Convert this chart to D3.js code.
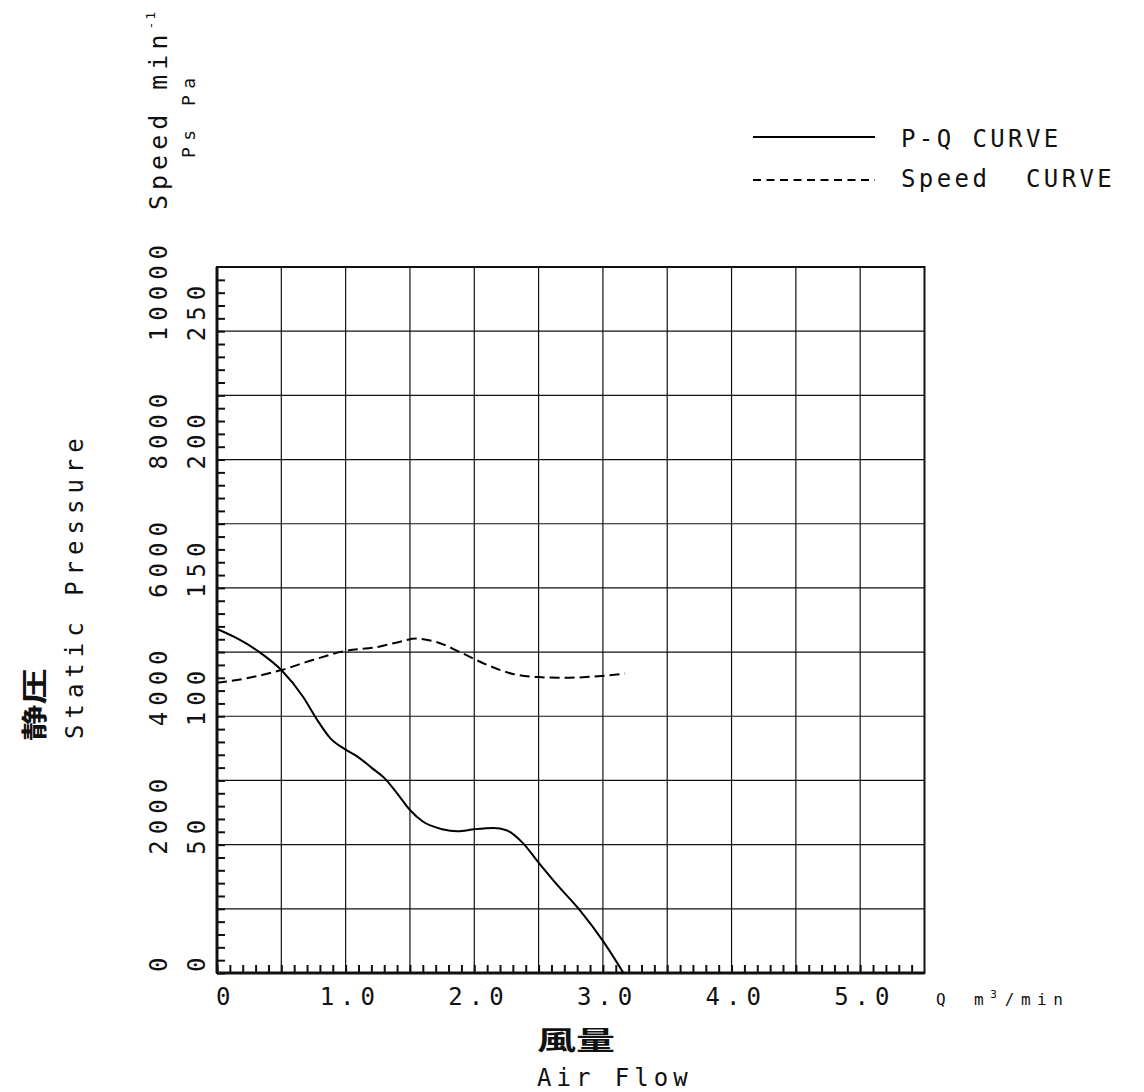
<!DOCTYPE html>
<html>
<head>
<meta charset="utf-8">
<script src="https://cdn.jsdelivr.net/npm/d3@7"></script>
<style>
  html, body { margin: 0; padding: 0; background: #fff; }
  svg { display: block; }
  text { font-family: "DejaVu Sans Mono", monospace; fill: #111; white-space: pre; }
</style>
</head>
<body>
<svg id="chart" width="1144" height="1092"></svg>
<script>
// ---- data ----
const xTickValues = [0, 1, 2, 3, 4, 5];
const xTickLabels = ["0", "1.0", "2.0", "3.0", "4.0", "5.0"];
const pressureTickValues = [0, 50, 100, 150, 200, 250];
const pressureTickLabels = ["0", "50", "100", "150", "200", "250"];
const speedTickValues = [0, 2000, 4000, 6000, 8000, 10000];
const speedTickLabels = ["0", "2000", "4000", "6000", "8000", "10000"];

const pqFlow =     [0, 0.15, 0.33, 0.5, 0.67, 0.78, 0.88, 1.0, 1.1, 1.2, 1.3, 1.4, 1.5, 1.6, 1.75, 1.87, 2.0, 2.15, 2.25, 2.38, 2.5, 2.65, 2.82, 3.0, 3.16];
const pqPressure = [134, 130.5, 125, 118, 107.5, 98.5, 91.5, 87, 84, 80, 76, 70, 63.5, 59, 56, 55.2, 56, 56.5, 55.6, 50.5, 43, 34, 24.5, 12.5, 0];

const speedFlow = [0, 0.25, 0.5, 0.75, 1.0, 1.25, 1.4, 1.55, 1.7, 1.9, 2.1, 2.3, 2.5, 2.7, 2.9, 3.05, 3.17];
const speedRpm  = [4520, 4600, 4720, 4880, 5020, 5080, 5150, 5210, 5160, 4990, 4800, 4660, 4610, 4600, 4615, 4640, 4665];

const legendLabels = ["P-Q CURVE", "Speed  CURVE"];

// ---- layout ----
const svg = d3.select("#chart");
const x = d3.scaleLinear().domain([0, 5.5]).range([217, 924.5]);
const y = d3.scaleLinear().domain([0, 275]).range([973, 267]);
const ySpeed = d3.scaleLinear().domain([0, 11000]).range([973, 267]);

// grid
const grid = svg.append("g").attr("stroke", "#111").attr("stroke-width", 1.2);
grid.selectAll("line.vx").data(d3.range(1, 11).map(i => i * 0.5)).join("line")
  .attr("x1", d => x(d)).attr("x2", d => x(d)).attr("y1", y(0)).attr("y2", y(275));
grid.selectAll("line.hy").data(d3.range(1, 11).map(i => i * 25)).join("line")
  .attr("x1", x(0)).attr("x2", x(5.5)).attr("y1", d => y(d)).attr("y2", d => y(d));

// minor ticks via axes
const minorX = d3.axisBottom(x).tickValues(d3.range(0, 55).map(i => i / 10)).tickSize(-8).tickFormat("");
const gx = svg.append("g").attr("transform", `translate(0,${y(0)})`).call(minorX);
gx.select(".domain").remove();
gx.selectAll(".tick line").attr("stroke", "#111").attr("stroke-width", 2);

const minorY = d3.axisLeft(y).tickValues(d3.range(0, 55).map(i => i * 5)).tickSize(-8).tickFormat("");
const gy = svg.append("g").attr("transform", `translate(${x(0)},0)`).call(minorY);
gy.select(".domain").remove();
gy.selectAll(".tick line").attr("stroke", "#111").attr("stroke-width", 2);

// frame
svg.append("rect").attr("x", x(0)).attr("y", y(275)).attr("width", x(5.5) - x(0)).attr("height", y(0) - y(275))
  .attr("fill", "none").attr("stroke", "#111").attr("stroke-width", 2);
svg.append("line").attr("x1", x(0)).attr("x2", x(5.5)).attr("y1", y(0)).attr("y2", y(0))
  .attr("stroke", "#111").attr("stroke-width", 3);
svg.append("line").attr("x1", x(0)).attr("x2", x(0)).attr("y1", y(0)).attr("y2", y(275))
  .attr("stroke", "#111").attr("stroke-width", 3);

// curves
const pqData = pqFlow.map((q, i) => [q, pqPressure[i]]);
const spData = speedFlow.map((q, i) => [q, speedRpm[i]]);
svg.append("path").datum(pqData)
  .attr("d", d3.line().x(d => x(d[0])).y(d => y(d[1])).curve(d3.curveMonotoneX))
  .attr("fill", "none").attr("stroke", "#000").attr("stroke-width", 2);
svg.append("path").datum(spData)
  .attr("d", d3.line().x(d => x(d[0])).y(d => ySpeed(d[1])).curve(d3.curveMonotoneX))
  .attr("fill", "none").attr("stroke", "#000").attr("stroke-width", 2).attr("stroke-dasharray", "10,5");

// x tick labels
svg.selectAll("text.xl").data(xTickValues).join("text")
  .attr("x", (d, i) => d === 0 ? x(d) - 1 : x(d) - 26)
  .attr("y", 1005)
  .attr("font-size", 24).attr("letter-spacing", 6)
  .text((d, i) => xTickLabels[i]);

// y tick labels (rotated)
svg.selectAll("text.yp").data(pressureTickValues).join("text")
  .attr("transform", (d) => `translate(205,${Math.min(y(d) + 10, 972)}) rotate(-90)`)
  .attr("font-size", 24).attr("letter-spacing", 6)
  .text((d, i) => pressureTickLabels[i]);
svg.selectAll("text.ys").data(speedTickValues).join("text")
  .attr("transform", (d) => `translate(167,${Math.min(ySpeed(d) + 10, 972)}) rotate(-90)`)
  .attr("font-size", 24).attr("letter-spacing", 6)
  .text((d, i) => speedTickLabels[i]);

// axis unit labels
const sp = svg.append("text").attr("transform", "translate(167,210) rotate(-90)")
  .attr("font-size", 25).attr("letter-spacing", 5);
sp.append("tspan").text("Speed min");
sp.append("tspan").attr("font-size", 13).attr("dy", -12).attr("letter-spacing", 2).text("-1");
svg.append("text").attr("transform", "translate(195,158) rotate(-90)")
  .attr("font-size", 18).attr("letter-spacing", 6.5).text("Ps Pa");

// left title
svg.append("text").attr("transform", "translate(83,739) rotate(-90)")
  .attr("font-size", 24).attr("letter-spacing", 6).text("Static Pressure");
svg.append("g").attr("transform", "translate(44,741) rotate(-90)")
  .append("text").attr("transform", "scale(1.4,1)")
  .style("font-family", "'Noto Sans CJK JP', sans-serif").attr("font-weight", "bold").attr("font-size", 26)
  .text("静圧");

// bottom title
svg.append("g").attr("transform", "translate(537,1050)")
  .append("text").attr("transform", "scale(1.5,1)")
  .style("font-family", "'Noto Sans CJK JP', sans-serif").attr("font-weight", "bold").attr("font-size", 26)
  .text("風量");
svg.append("text").attr("x", 537).attr("y", 1086)
  .attr("font-size", 24).attr("letter-spacing", 5).text("Air Flow");

// Q unit
const qt = svg.append("text").attr("x", 936).attr("y", 1005).attr("font-size", 16).attr("letter-spacing", 6.5);
qt.append("tspan").text("Q");
qt.append("tspan").attr("x", 974).text("m");
qt.append("tspan").attr("font-size", 11).attr("dy", -7).attr("letter-spacing", 3).text("3");
qt.append("tspan").attr("dy", 7).attr("dx", 5).text("/min");

// legend
const lg = svg.append("g");
lg.selectAll("line").data(legendLabels).join("line")
  .attr("x1", 753).attr("x2", 875)
  .attr("y1", (d, i) => 137 + i * 43).attr("y2", (d, i) => 137 + i * 43)
  .attr("stroke", "#000").attr("stroke-width", 2)
  .attr("stroke-dasharray", (d, i) => i === 1 ? "8,5.5" : null);
lg.selectAll("text").data(legendLabels).join("text")
  .attr("x", 901).attr("y", (d, i) => 147 + i * 40)
  .attr("font-size", 24).attr("letter-spacing", 3.4)
  .text(d => d);
</script>
</body>
</html>
